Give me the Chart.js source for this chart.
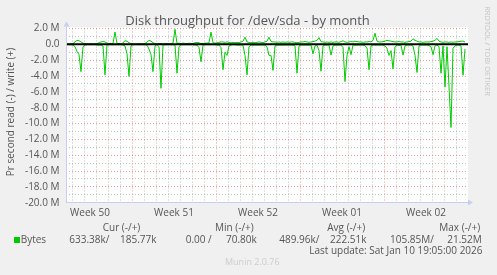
<!DOCTYPE html>
<html>
<head>
<meta charset="utf-8">
<script src="https://cdn.jsdelivr.net/npm/chart.js@4/dist/chart.umd.min.js"></script>
<style>
  html, body { margin: 0; padding: 0; background: #f0f0f0; }
  canvas { display: block; }
</style>
</head>
<body>
<canvas id="c" width="497" height="275"></canvas>
<script>
// ---- data (values in M bytes per second) ----
const chartTitle = 'Disk throughput for /dev/sda - by month';
const yAxisTitle = 'Pr second read (-) / write (+)';
const weekLabels = ['Week 50', 'Week 51', 'Week 52', 'Week 01', 'Week 02'];
const firstWeekStartDay = -1.5;   // days relative to left edge of graph
const rangeDays = 33.5;
const sampleStartDay = 1 / 12;    // first sample
const sampleStepDays = 1 / 6;     // 4 hours between samples

const yMin = -20, yMax = 2, yStep = 1;

// write (plotted positive)
const writeM = [
  0.05,0.05,0.05,0.1,0.3,0.5,0.45,0.3,0.15,0.1,
  0.05,0.05,0.1,0.05,0.05,0.1,0.2,0.3,0.35,0.3,
  0.15,0.1,0.1,0.1,1.55,0.1,0.1,0.05,0.2,0.45,
  0.4,0.2,0.1,0.05,0.05,0.05,0.1,0.05,0.05,0.1,
  0.3,0.5,0.4,0.2,0.1,0.05,0.1,0.1,0.05,0.1,
  0.1,0.05,0.1,0.15,1.9,0.1,0.15,0.1,0.15,0.1,
  0.1,0.15,0.1,0.1,0.2,0.25,0.2,0.1,0.1,0.15,
  0.15,0.2,1.55,0.2,0.15,0.2,0.25,0.3,0.3,0.25,
  0.3,0.25,0.2,0.25,0.2,0.25,0.2,0.3,0.4,0.9,
  0.3,0.25,0.2,0.25,0.2,0.25,0.3,0.25,0.2,0.3,
  0.4,0.9,0.35,0.3,0.3,0.25,0.3,0.25,0.3,0.25,
  0.3,0.25,0.3,0.3,0.25,0.2,0.25,0.3,0.3,0.35,
  0.3,0.25,0.3,0.35,0.4,0.5,0.85,0.35,0.3,0.25,
  0.3,0.25,0.3,0.25,0.3,0.3,0.25,0.35,0.45,0.3,
  0.25,0.3,0.35,0.3,0.4,0.35,0.3,0.3,0.25,0.3,
  0.3,0.35,0.3,0.5,1.4,0.4,0.3,0.3,0.35,0.4,
  0.5,0.45,0.4,0.35,0.3,0.3,0.35,0.3,0.3,0.25,
  0.3,0.35,0.4,0.7,0.5,0.4,0.3,0.3,0.25,0.3,
  0.3,0.3,0.35,0.4,0.5,0.75,0.4,0.3,0.25,0.3,
  0.3,0.25,0.3,0.25,0.3,0.3,0.35,0.4,0.4,0.3
];

// read (plotted negative)
const readM = [
  0.05,0.05,0.05,0.1,0.3,0.9,1.3,3.45,0.3,0.1,
  0.05,0.05,0.05,0.05,0.05,0.1,0.1,0.1,0.2,3.85,
  0.1,0.05,0.05,0.05,0.05,0.05,0.05,0.05,0.1,0.2,
  1.2,4.05,0.2,0.05,0.05,0.05,0.05,0.05,0.05,0.05,
  0.1,0.6,1.3,3.45,0.2,0.05,0.3,5.55,0.1,0.05,
  0.05,0.05,0.05,0.05,0.1,3.65,0.3,0.05,0.05,0.05,
  0.05,0.05,0.05,0.05,0.1,0.1,0.4,2.2,0.1,0.05,
  0.05,0.05,0.05,0.05,0.05,0.1,0.1,0.4,3.2,1.0,
  1.4,0.2,0.1,0.05,0.05,0.1,0.1,0.1,0.1,1.4,
  3.85,0.3,0.1,0.1,0.1,0.1,0.1,0.1,0.1,0.1,
  0.3,1.4,1.4,3.3,0.2,0.1,0.1,0.1,0.1,0.1,
  0.1,0.1,0.1,0.1,0.2,3.65,0.2,0.1,0.1,0.1,
  0.1,0.1,0.1,1.2,0.2,0.1,0.8,3.4,0.2,0.1,
  0.1,0.1,1.35,0.2,0.1,0.1,0.1,0.1,0.4,4.7,
  1.4,0.3,1.3,0.1,0.1,0.1,0.1,0.1,0.1,0.15,
  0.5,3.2,0.2,0.1,0.1,0.1,0.1,0.1,0.1,0.2,
  0.5,1.4,0.8,3.1,0.3,0.1,0.15,0.1,1.35,0.2,
  0.1,0.1,0.1,0.2,1.4,3.55,0.2,0.1,0.1,0.1,
  0.1,0.15,0.3,1.3,0.2,0.1,0.3,3.65,0.2,5.4,
  0.3,5.3,10.5,0.5,0.2,0.1,0.1,0.2,3.9,0.6
];

// legend
const legendSeries = 'Bytes';
const legendHeaders = ['Cur (-/+)', 'Min (-/+)', 'Avg (-/+)', 'Max (-/+)'];
const legendReadVals = ['633.38k/', '0.00 /', '489.96k/', '105.85M/'];
const legendWriteVals = ['185.77k', '70.80k', '222.51k', '21.52M'];
const lastUpdate = 'Last update: Sat Jan 10 19:05:00 2026';
const footer = 'Munin 2.0.76';
const watermark = 'RRDTOOL / TOBI OETIKER';

// ---- styles ----
const GREEN = '#00cc00';
const TEXT = '#555555';
const MAJOR_GRID = 'rgba(225,90,90,0.6)';
const MINOR_GRID = 'rgba(170,170,170,0.75)';
const AXIS = '#c8cdf5';
const FONT = '"Open Sans", "Noto Sans", sans-serif';

// build x ticks (day grid + week-centre label positions)
const xTickVals = [];
const weekCentres = weekLabels.map((_, k) => firstWeekStartDay + 7 * k + 3.5);
for (let d = firstWeekStartDay; d < rangeDays; d += 1) {
  if (d > 0) xTickVals.push(d);
}
weekCentres.forEach(c => xTickVals.push(c));
xTickVals.sort((a, b) => a - b);
const isWeekBoundary = v => Math.abs(((v - firstWeekStartDay) % 7 + 7) % 7) < 1e-6;
const centreIndex = v => weekCentres.findIndex(c => Math.abs(c - v) < 1e-6);

const toPoints = (arr, sign) => arr.map((v, i) => ({ x: sampleStartDay + i * sampleStepDays, y: sign * v }));

const decorPlugin = {
  id: 'decor',
  beforeDraw(chart) {
    const { ctx, chartArea: a } = chart;
    ctx.save();
    ctx.fillStyle = '#f0f0f0';
    ctx.fillRect(0, 0, chart.width, chart.height);
    ctx.fillStyle = '#ffffff';
    ctx.fillRect(a.left, a.top - 1, a.right - a.left, a.bottom - a.top + 1);
    ctx.restore();
  },
  afterDatasetsDraw(chart) {
    const { ctx, chartArea: a, scales } = chart;
    const y0 = scales.y.getPixelForValue(0);
    ctx.save();
    ctx.strokeStyle = '#000000';
    ctx.lineWidth = 2;
    ctx.beginPath();
    ctx.moveTo(a.left, y0);
    ctx.lineTo(a.right, y0);
    ctx.stroke();
    ctx.restore();
  },
  afterDraw(chart) {
    const { ctx, chartArea: a } = chart;
    ctx.save();
    // axes
    const ax = Math.round(a.left) + 0.5;
    const ay = Math.floor(a.bottom) + 0.5;
    ctx.strokeStyle = AXIS;
    ctx.lineWidth = 1;
    ctx.beginPath();
    ctx.moveTo(ax, ay); ctx.lineTo(a.right, ay);
    ctx.moveTo(ax, ay); ctx.lineTo(ax, a.top - 2);
    ctx.stroke();
    ctx.fillStyle = AXIS;
    ctx.beginPath();
    ctx.moveTo(a.right, ay - 3); ctx.lineTo(a.right + 5, ay); ctx.lineTo(a.right, ay + 3); ctx.closePath();
    ctx.fill();
    ctx.beginPath();
    ctx.moveTo(ax - 3, a.top - 2); ctx.lineTo(ax, a.top - 7); ctx.lineTo(ax + 3, a.top - 2); ctx.closePath();
    ctx.fill();

    // title
    ctx.fillStyle = TEXT;
    ctx.font = '13px ' + FONT;
    ctx.textAlign = 'center';
    ctx.textBaseline = 'alphabetic';
    ctx.fillText(chartTitle, 247.5, 25);

    // y axis title
    ctx.save();
    ctx.translate(11, 112);
    ctx.rotate(-Math.PI / 2);
    ctx.font = '10px ' + FONT;
    ctx.textBaseline = 'middle';
    ctx.textAlign = 'center';
    ctx.fillText(yAxisTitle, 0, 0);
    ctx.restore();

    // watermark
    ctx.save();
    ctx.translate(487, 51);
    ctx.rotate(Math.PI / 2);
    ctx.font = '7.5px ' + FONT;
    ctx.fillStyle = '#c4c4c4';
    ctx.textBaseline = 'middle';
    ctx.textAlign = 'center';
    ctx.fillText(watermark, 0, 0);
    ctx.restore();

    // legend
    ctx.font = '10px ' + FONT;
    ctx.fillStyle = TEXT;
    ctx.textBaseline = 'middle';
    ctx.textAlign = 'left';
    const headX = [102.7, 215, 327.3, 439.3];
    const readX = [69.3, 185.7, 279.3, 390];
    const writeX = [120, 226, 330, 447.3];
    legendHeaders.forEach((h, i) => ctx.fillText(h, headX[i], 228));
    ctx.fillText(legendSeries, 20.7, 240);
    legendReadVals.forEach((v, i) => ctx.fillText(v, readX[i], 240));
    legendWriteVals.forEach((v, i) => ctx.fillText(v, writeX[i], 240));
    ctx.fillStyle = GREEN;
    ctx.fillRect(14, 237, 6, 6);
    ctx.fillStyle = TEXT;
    ctx.textAlign = 'right';
    ctx.fillText(lastUpdate, 482.5, 251.5);
    ctx.textAlign = 'left';
    ctx.font = '9px ' + FONT;
    ctx.fillStyle = '#cccccc';
    ctx.fillText(footer, 225, 262);
    ctx.restore();
  }
};

new Chart(document.getElementById('c'), {
  type: 'line',
  data: {
    datasets: [
      { label: 'read', data: toPoints(readM, -1), borderColor: GREEN, borderWidth: 1, pointRadius: 0, tension: 0, fill: false },
      { label: 'write', data: toPoints(writeM, 1), borderColor: GREEN, borderWidth: 1, pointRadius: 0, tension: 0, fill: false }
    ]
  },
  options: {
    responsive: false,
    animation: false,
    devicePixelRatio: 1,
    events: [],
    layout: { padding: { top: 28.5, right: 29, left: 0, bottom: 0 } },
    plugins: { legend: { display: false }, tooltip: { enabled: false }, title: { display: false } },
    scales: {
      x: {
        type: 'linear',
        min: 0,
        max: rangeDays,
        afterFit(s) { s.height = 72.3; },
        afterBuildTicks(s) { s.ticks = xTickVals.map(v => ({ value: v })); },
        grid: {
          drawTicks: false,
          lineWidth: 1,
          color(ctx) {
            const v = ctx.tick ? ctx.tick.value : null;
            if (v === null) return 'transparent';
            if (centreIndex(v) >= 0) return 'transparent';
            return isWeekBoundary(v) ? MAJOR_GRID : MINOR_GRID;
          }
        },
        border: { display: false, dash: [1, 2] },
        ticks: {
          autoSkip: false,
          maxRotation: 0,
          minRotation: 0,
          padding: 4,
          color: TEXT,
          font: { family: FONT, size: 10 },
          callback(v) { const k = centreIndex(v); return k >= 0 ? weekLabels[k] : ''; }
        }
      },
      y: {
        min: yMin,
        max: yMax,
        afterFit(s) { s.width = 66; },
        grid: {
          drawTicks: false,
          lineWidth: 1,
          color(ctx) {
            const v = ctx.tick ? ctx.tick.value : null;
            if (v === null) return 'transparent';
            return (Math.abs(v) % 2 === 0) ? MAJOR_GRID : MINOR_GRID;
          }
        },
        border: { display: false, dash: [1, 2] },
        ticks: {
          stepSize: yStep,
          autoSkip: false,
          padding: 6.5,
          color: TEXT,
          font: { family: FONT, size: 10 },
          callback(v) {
            if (Math.abs(v) % 2 !== 0) return '';
            return v === 0 ? '0.0' : v.toFixed(1) + ' M';
          }
        }
      }
    }
  },
  plugins: [decorPlugin]
});
</script>
</body>
</html>
